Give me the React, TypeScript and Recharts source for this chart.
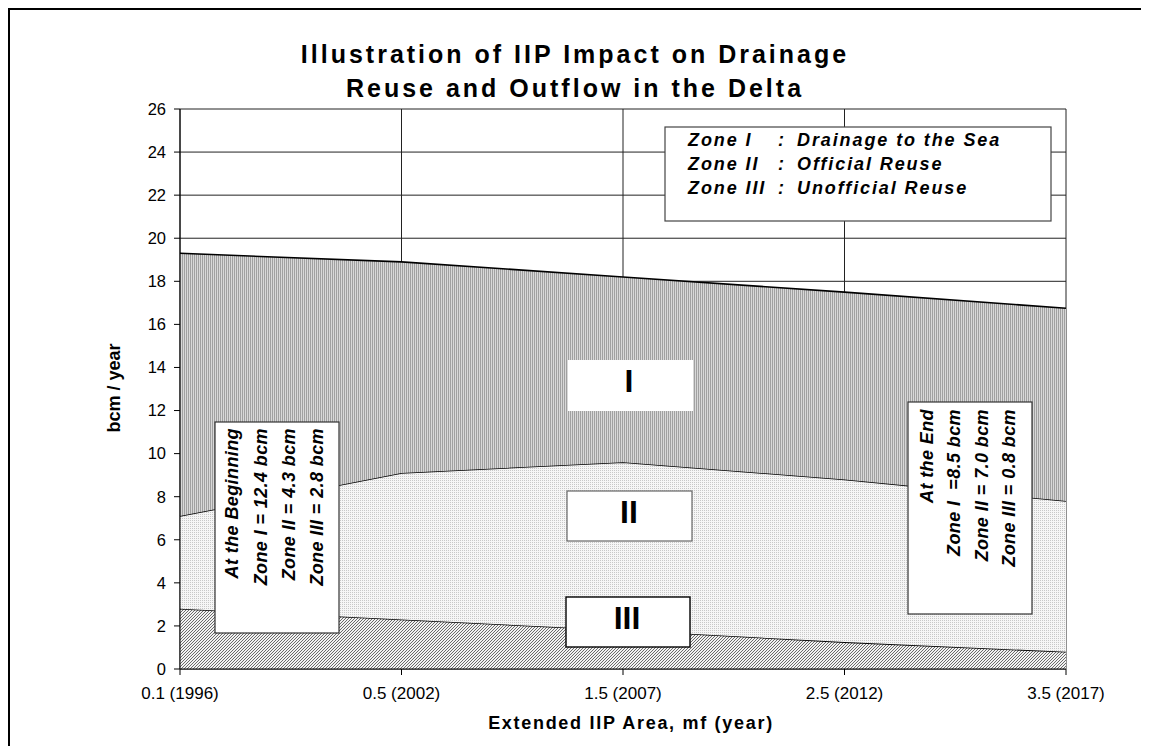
import React from 'react';
import { AreaChart, Area, XAxis, YAxis, CartesianGrid } from 'recharts';

const categories = ['0.1 (1996)', '0.5 (2002)', '1.5 (2007)', '2.5 (2012)', '3.5 (2017)'];
const zoneIII = [2.8, 2.3, 1.8, 1.25, 0.8];
const zoneII = [4.3, 6.8, 7.8, 7.55, 7.0];
const zoneI = [12.2, 9.8, 8.6, 8.7, 8.95];
const yTicks = [0, 2, 4, 6, 8, 10, 12, 14, 16, 18, 20, 22, 24, 26];

const titleLines = ['Illustration of IIP Impact on Drainage', 'Reuse and Outflow in the Delta'];
const legendRows = [
  ['Zone I', 'Drainage to the Sea'],
  ['Zone II', 'Official Reuse'],
  ['Zone III', 'Unofficial Reuse'],
];
const beginLines = ['At the Beginning', 'Zone I = 12.4 bcm', 'Zone II = 4.3 bcm', 'Zone III = 2.8 bcm'];
const endLines = ['At the End', 'Zone I  =8.5 bcm', 'Zone II = 7.0 bcm', 'Zone III = 0.8 bcm'];

const data = categories.map((c, i) => ({ cat: c, III: zoneIII[i], II: zoneII[i], I: zoneI[i] }));

const W = 1133;
const H = 738;
const FONT = '"Liberation Sans", Arial, Helvetica, sans-serif';

export default function App() {
  return (
    <div style={{ position: 'relative', width: W, height: H, fontFamily: FONT }}>
      <AreaChart
        width={W}
        height={H}
        data={data}
        margin={{ top: 101, right: 75, bottom: 47, left: 112 }}
      >
        <defs>
          <pattern id="patI" patternUnits="userSpaceOnUse" width="2" height="2">
            <rect x="0" y="0" width="2" height="2" fill="#d8d8d8" />
            <rect x="0" y="0" width="1" height="2" fill="#a0a0a0" />
          </pattern>
          <pattern id="patII" patternUnits="userSpaceOnUse" width="2" height="2">
            <rect x="0" y="0" width="2" height="2" fill="#f6f6f6" />
            <rect x="0" y="0" width="1" height="1" fill="#c8c8c8" />
          </pattern>
          <pattern id="patIII" patternUnits="userSpaceOnUse" width="3" height="3">
            <rect x="0" y="0" width="3" height="3" fill="#f2f2f2" />
            <path d="M-1,1 L1,-1 M0,3 L3,0 M2,4 L4,2" stroke="#6a6a6a" strokeWidth="1" />
          </pattern>
        </defs>
        <CartesianGrid stroke="#222" strokeWidth={1} horizontal vertical />
        <XAxis
          dataKey="cat"
          stroke="#000"
          tickSize={6}
          tickMargin={12}
          tick={{ fill: '#000', fontSize: 17, fontFamily: FONT }}
          interval={0}
        />
        <YAxis
          width={60}
          domain={[0, 26]}
          ticks={yTicks}
          stroke="#000"
          tickSize={6}
          tickMargin={8}
          tick={{ fill: '#000', fontSize: 16.5, fontFamily: FONT }}
          interval={0}
        />
        <Area dataKey="III" stackId="z" type="linear" fill="url(#patIII)" fillOpacity={1} stroke="#000" strokeWidth={1.6} dot={false} activeDot={false} isAnimationActive={false} />
        <Area dataKey="II" stackId="z" type="linear" fill="url(#patII)" fillOpacity={1} stroke="#000" strokeWidth={1.6} dot={false} activeDot={false} isAnimationActive={false} />
        <Area dataKey="I" stackId="z" type="linear" fill="url(#patI)" fillOpacity={1} stroke="#000" strokeWidth={1.6} dot={false} activeDot={false} isAnimationActive={false} />
      </AreaChart>
      <svg
        width={W}
        height={H}
        style={{ position: 'absolute', left: 0, top: 0, pointerEvents: 'none', fontFamily: FONT }}
      >
        <line x1={1} y1={0} x2={1} y2={H} stroke="#000" strokeWidth={2} />
        <line x1={0} y1={1} x2={W} y2={1} stroke="#000" strokeWidth={2} />

        {titleLines.map((t, i) => (
          <text key={t} x={567} y={55 + i * 34} textAnchor="middle" fontSize={25} fontWeight="bold" letterSpacing={3} fill="#000">
            {t}
          </text>
        ))}

        <text x={112} y={380} transform="rotate(-90 112 380)" textAnchor="middle" fontSize={18} fontWeight="bold" fill="#000">
          bcm / year
        </text>
        <text x={623} y={721} textAnchor="middle" fontSize={18} fontWeight="bold" letterSpacing={1.7} fill="#000">
          Extended IIP Area, mf (year)
        </text>

        <rect x={657} y={119} width={386} height={94} fill="#fff" stroke="#444" strokeWidth={1.2} />
        {legendRows.map((r, i) => (
          <g key={r[0]} fontSize={18} fontWeight="bold" fontStyle="italic" letterSpacing={1.9} fill="#000">
            <text x={680} y={138 + i * 24}>{r[0]}</text>
            <text x={770} y={138 + i * 24}>:</text>
            <text x={789} y={138 + i * 24}>{r[1]}</text>
          </g>
        ))}

        <rect x={207} y={414} width={124} height={211} fill="#fff" stroke="#333" strokeWidth={1.2} />
        {beginLines.map((t, i) => {
          const x = [230, 259, 287, 315][i];
          return (
            <text key={t} x={x} y={420} transform={`rotate(-90 ${x} 420)`} textAnchor="end" fontSize={18} fontWeight="bold" fontStyle="italic" letterSpacing={0.4} fill="#000" style={{ whiteSpace: 'pre' }}>
              {t}
            </text>
          );
        })}

        <rect x={900} y={394} width={124} height={212} fill="#fff" stroke="#333" strokeWidth={1.2} />
        {endLines.map((t, i) => {
          const x = [925, 952, 980, 1007][i];
          return (
            <text key={t} x={x} y={401} transform={`rotate(-90 ${x} 401)`} textAnchor="end" fontSize={18} fontWeight="bold" fontStyle="italic" letterSpacing={0.4} fill="#000" style={{ whiteSpace: 'pre' }}>
              {t}
            </text>
          );
        })}

        <rect x={560} y={352} width={125} height={51} fill="#fff" />
        <text x={621} y={384} textAnchor="middle" fontSize={32} fontWeight="bold" fill="#000">I</text>

        <rect x={559} y={483} width={125} height={50} fill="#fff" stroke="#666" strokeWidth={1.2} />
        <text x={621} y={515} textAnchor="middle" fontSize={32} fontWeight="bold" fill="#000">II</text>

        <rect x={558} y={589} width={124} height={50} fill="#fff" stroke="#000" strokeWidth={1.4} />
        <text x={619} y={621} textAnchor="middle" fontSize={32} fontWeight="bold" fill="#000">III</text>
      </svg>
    </div>
  );
}
